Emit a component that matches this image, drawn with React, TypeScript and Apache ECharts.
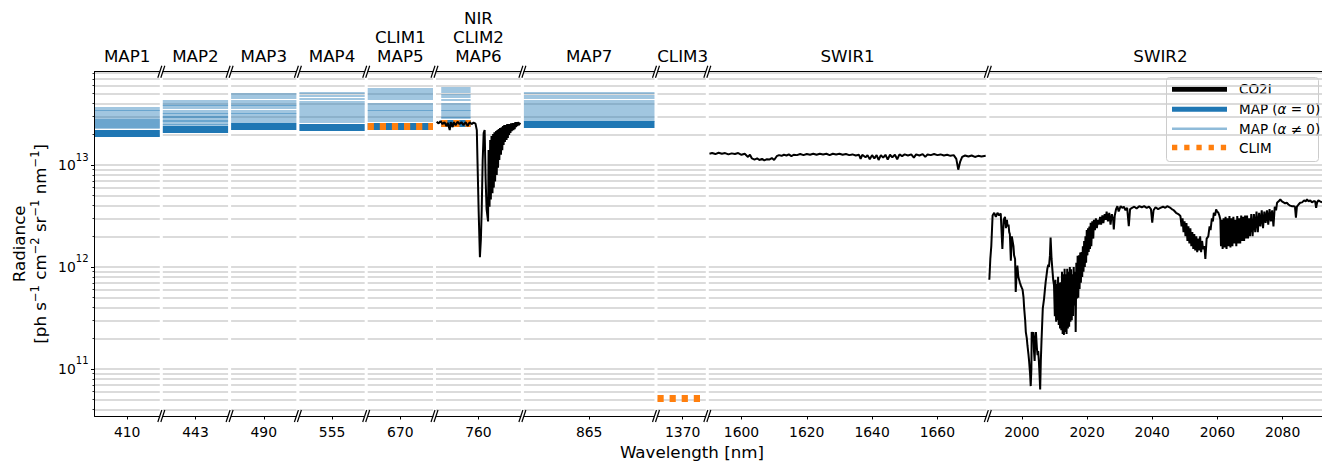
import React, { useEffect, useRef } from "react";
import * as echarts from "echarts";

const FONT = "DejaVu Sans";
const UNIT = 1e12; // radiance values below are in units of 1e12 ph s-1 cm-2 sr-1 nm-1

// ---- panels (broken x axis) ----
const panelNames = ["MAP1", "MAP2", "MAP3", "MAP4", "CLIM1\nMAP5", "NIR\nCLIM2\nMAP6", "MAP7", "CLIM3", "SWIR1", "SWIR2"];
const panelRanges = [[400, 420], [433, 453], [480, 500], [545, 565], [660, 680], [747, 773], [845, 885], [1362.3, 1377.1], [1590, 1675], [1990, 2092.1]];
const panelTicks = [[410], [443], [490], [555], [670], [760], [865], [1370], [1600, 1620, 1640, 1660], [2000, 2020, 2040, 2060, 2080]];
const panelLabelAt = [410, 443, 490, 555, 670, 760, 865, 1370, 1632.5, 2042.5];

// ---- y axis (log) ----
const yMin = 3.46e10;
const yMax = 8.22e13;
const yMajorTicks = [1e11, 1e12, 1e13];
const yMinorTicks = [4e10, 5e10, 6e10, 7e10, 8e10, 9e10, 2e11, 3e11, 4e11, 5e11, 6e11, 7e11, 8e11, 9e11, 2e12, 3e12, 4e12, 5e12, 6e12, 7e12, 8e12, 9e12, 2e13, 3e13, 4e13, 5e13, 6e13, 7e13, 8e13];

// ---- MAP bands ----
const mapPanel = [0, 1, 2, 3, 4, 5, 6];
const mapRanges = [[400, 420], [433, 453], [480, 500], [545, 565], [660, 680], [748.6, 757.6], [845, 885]];
const mapAlphaZero = [20.6, 22.4, 23.9, 23.5, 24.1, 25.9, 25.0];
const mapAlphaNonZero = [
  [36.4, 35.2, 33.7, 32.2, 30.8, 29.4, 28.1, 27.6, 27.2, 26.3, 25.8, 25.4, 24.6, 24.2, 23.8, 23.0],
  [42.4, 41.2, 39.4, 37.7, 36.1, 34.4, 32.9, 31.5, 30.1, 29.4, 28.8, 27.5, 26.9, 26.3, 25.2, 24.6],
  [50.0, 48.2, 45.6, 43.1, 41.2, 39.4, 37.7, 36.1, 34.4, 32.9, 31.5, 30.1, 28.8, 27.5, 26.5],
  [50.7, 47.5, 44.5, 42.0, 40.0, 38.2, 36.5, 34.8, 33.2, 31.8, 30.4, 29.1, 27.8, 26.5],
  [56.4, 53.9, 51.4, 49.2, 47.0, 44.9, 40.3, 38.5, 36.8, 35.2, 33.7, 32.2, 30.8, 29.4, 28.1, 27.1],
  [57.3, 54.5, 51.8, 49.0, 46.5, 44.0, 40.3, 38.5, 36.8, 35.2, 33.7, 32.2, 30.8, 29.4, 28.8],
  [50.7, 48.2, 45.6, 43.1, 40.9, 38.8, 37.0, 35.4, 33.8, 32.3, 30.9, 29.6, 28.4, 27.2],
];

// ---- CLIM bands ----
const climPanel = [4, 5, 7];
const climRanges = [[660, 680], [748.6, 757.6], [1362.3, 1377.1]];
const climValues = [24.1, 25.9, 0.052];

// ---- CO2I spectra [wavelength nm, radiance 1e12] ----
const nirSpectrum = [
  [747.2, 26.6], [747.8, 25.6], [748.4, 26.9], [749.0, 25.2], [749.6, 26.3], [750.2, 24.1], [750.6, 25.9], [751.2, 22.0],
  [751.5, 26.3], [752.1, 23.5], [752.4, 26.3], [753.0, 24.6], [753.6, 26.6], [754.2, 25.2], [754.8, 26.3], [755.4, 24.6],
  [756.1, 26.3], [756.7, 24.1], [757.3, 26.3], [757.9, 25.2], [758.5, 26.0], [759.1, 25.4], [759.5, 22.0], [759.7, 11.2],
  [760.05, 3.67], [760.45, 1.25], [760.75, 1.87], [761.0, 3.67], [761.3, 11.2], [761.6, 20.6], [761.9, 22.0], [762.2, 7.3],
  [762.5, 3.67], [762.95, 2.8], [763.1, 14.0], [763.4, 3.9], [763.6, 17.6], [763.8, 4.6], [764.0, 19.2], [764.3, 5.3],
  [764.5, 20.1], [764.7, 6.0], [764.9, 21.0], [765.1, 6.9], [765.4, 21.5], [765.6, 8.0], [765.8, 22.0], [766.0, 9.4],
  [766.2, 22.5], [766.4, 11.2], [766.6, 23.0], [766.9, 12.6], [767.1, 23.5], [767.3, 14.0], [767.5, 24.1], [767.7, 15.7],
  [767.9, 24.6], [768.1, 16.8], [768.3, 24.6], [768.6, 17.6], [768.8, 25.2], [769.0, 18.4], [769.2, 25.2], [769.4, 19.7],
  [769.6, 25.2], [769.8, 20.6], [770.0, 25.7], [770.2, 21.5], [770.5, 25.7], [770.7, 22.0], [770.9, 25.7], [771.1, 22.5],
  [771.3, 26.3], [771.5, 23.5], [771.7, 26.3], [771.9, 24.1], [772.1, 26.3], [772.4, 24.6], [772.8, 26.0],
];

const swir1Spectrum = [
  [1590.2, 12.9], [1591.0, 13.1], [1592.0, 12.8], [1593.0, 13.2], [1594.0, 12.9], [1595.0, 13.1], [1596.0, 12.7], [1597.0, 13.0],
  [1598.0, 12.8], [1599.0, 13.1], [1600.0, 12.6], [1601.0, 12.9], [1602.0, 12.0], [1602.6, 12.6], [1603.2, 11.6], [1604.0, 11.3],
  [1604.8, 11.6], [1605.5, 11.2], [1606.3, 11.5], [1607.0, 11.1], [1607.8, 11.4], [1608.5, 11.3], [1609.3, 11.7], [1610.0, 11.2],
  [1610.8, 12.2], [1611.5, 12.5], [1612.3, 12.3], [1613.0, 12.6], [1613.8, 12.4], [1614.5, 12.7], [1615.3, 12.2], [1616.0, 12.6],
  [1617.0, 12.5], [1618.0, 12.8], [1619.0, 12.5], [1620.0, 12.8], [1621.0, 12.6], [1622.0, 12.9], [1623.0, 12.6], [1624.0, 12.9],
  [1625.0, 12.7], [1626.0, 12.9], [1627.0, 12.5], [1628.0, 12.9], [1629.0, 12.7], [1630.0, 12.9], [1631.0, 12.6], [1632.0, 12.8],
  [1633.0, 12.5], [1634.0, 12.7], [1635.0, 12.4], [1636.0, 12.6], [1636.5, 11.5], [1637.0, 12.6], [1638.0, 11.9], [1638.6, 12.5],
  [1639.3, 11.4], [1640.0, 12.5], [1640.7, 11.6], [1641.4, 12.5], [1642.0, 11.2], [1642.7, 12.5], [1643.4, 11.8], [1644.1, 12.6],
  [1644.8, 11.3], [1645.5, 12.6], [1646.2, 11.9], [1647.0, 12.6], [1647.7, 11.4], [1648.4, 12.7], [1649.2, 12.2], [1650.0, 12.7],
  [1651.0, 12.4], [1652.0, 12.7], [1652.8, 11.8], [1653.5, 12.7], [1654.5, 12.4], [1655.5, 12.8], [1656.3, 12.0], [1657.0, 12.7],
  [1658.0, 12.5], [1659.0, 12.8], [1660.0, 12.5], [1661.0, 12.7], [1662.0, 12.4], [1663.0, 12.6], [1664.0, 12.3], [1665.0, 12.5],
  [1665.8, 11.5], [1666.4, 9.0], [1667.0, 10.8], [1667.6, 12.0], [1668.5, 12.4], [1669.5, 12.1], [1670.5, 12.4], [1671.5, 12.0],
  [1672.5, 12.3], [1673.5, 12.1], [1674.8, 12.3],
];

const swir2Spectrum = [
  [1990.0, 0.75], [1990.3, 1.2], [1990.6, 1.6], [1991.0, 3.2], [1991.5, 3.4], [1992.0, 3.1], [1992.5, 3.4], [1993.0, 3.2],
  [1993.5, 3.35], [1994.0, 1.5], [1994.4, 2.9], [1994.8, 3.1], [1995.1, 2.4], [1995.4, 2.9], [1995.6, 2.5], [1995.9, 2.6],
  [1996.1, 2.2], [1996.3, 2.1], [1996.6, 1.15], [1996.9, 2.0], [1997.1, 2.0], [1997.4, 1.6], [1997.6, 1.3], [1997.9, 1.2],
  [1998.1, 0.57], [1998.4, 0.9], [1998.6, 1.03], [1998.9, 0.8], [1999.1, 0.76], [1999.4, 0.7], [1999.65, 0.66], [2000.0, 0.62],
  [2000.2, 0.6], [2000.5, 0.5], [2000.7, 0.39], [2001.0, 0.3], [2001.2, 0.23], [2001.5, 0.2], [2001.7, 0.17], [2002.0, 0.14],
  [2002.2, 0.12], [2002.5, 0.09], [2002.7, 0.068], [2002.9, 0.1], [2003.0, 0.23], [2003.3, 0.21], [2003.5, 0.23], [2003.7, 0.15],
  [2003.9, 0.12], [2004.1, 0.2], [2004.3, 0.23], [2004.6, 0.16], [2004.8, 0.137], [2005.0, 0.15], [2005.2, 0.12], [2005.4, 0.09],
  [2005.6, 0.063], [2005.8, 0.12], [2006.0, 0.184], [2006.4, 0.39], [2006.8, 0.49], [2007.1, 0.62], [2007.3, 0.72], [2007.6, 0.85],
  [2007.8, 0.96], [2008.1, 1.05], [2008.3, 1.0], [2008.6, 1.3], [2008.8, 1.94], [2009.1, 1.2], [2009.4, 0.9], [2009.6, 0.75],
  [2009.85, 0.66], [2010.1, 0.33], [2010.3, 0.75], [2010.5, 0.29], [2010.7, 0.68], [2010.9, 0.3], [2011.1, 0.8], [2011.3, 0.27],
  [2011.5, 0.7], [2011.7, 0.25], [2011.9, 0.71], [2012.1, 0.24], [2012.3, 0.9], [2012.5, 0.22], [2012.7, 0.85], [2012.9, 0.216],
  [2013.1, 0.96], [2013.3, 0.23], [2013.5, 0.85], [2013.7, 0.22], [2013.9, 0.96], [2014.1, 0.25], [2014.3, 0.9], [2014.5, 0.26],
  [2014.7, 1.0], [2014.9, 0.29], [2015.1, 0.95], [2015.3, 0.3], [2015.5, 0.85], [2015.7, 0.33], [2015.9, 1.0], [2016.1, 0.42],
  [2016.3, 0.9], [2016.5, 0.23], [2016.7, 1.1], [2016.9, 0.49], [2017.1, 1.29], [2017.3, 0.5], [2017.5, 1.3], [2017.7, 0.61],
  [2017.9, 1.39], [2018.1, 0.7], [2018.3, 1.4], [2018.5, 0.8], [2018.7, 1.6], [2018.9, 0.9], [2019.1, 1.8], [2019.3, 1.0],
  [2019.5, 2.0], [2019.7, 1.1], [2019.9, 2.3], [2020.1, 1.3], [2020.3, 2.4], [2020.5, 1.4], [2020.7, 2.5], [2020.9, 1.5],
  [2021.1, 2.72], [2021.3, 1.6], [2021.6, 2.8], [2021.9, 1.9], [2022.1, 2.9], [2022.4, 2.3], [2022.7, 3.0], [2023.0, 2.4],
  [2023.3, 2.9], [2023.6, 2.6], [2024.0, 3.1], [2024.3, 2.6], [2024.7, 3.2], [2025.0, 2.7], [2025.4, 3.3], [2025.7, 2.9],
  [2026.0, 3.5], [2026.4, 2.8], [2026.8, 3.4], [2027.2, 2.6], [2027.6, 3.3], [2028.0, 2.9], [2028.2, 2.33], [2028.5, 3.2],
  [2028.9, 3.7], [2029.3, 3.95], [2029.7, 3.5], [2030.3, 3.95], [2030.8, 3.8], [2031.3, 3.9], [2031.8, 3.6], [2032.3, 3.8],
  [2032.8, 2.52], [2033.2, 3.7], [2033.8, 3.8], [2034.5, 3.9], [2035.2, 3.75], [2036.0, 3.95], [2036.8, 3.85], [2037.5, 3.95],
  [2038.3, 3.8], [2039.0, 3.9], [2039.6, 3.7], [2040.0, 2.72], [2040.4, 3.6], [2041.0, 3.85], [2041.8, 3.7], [2042.5, 3.8],
  [2043.3, 3.9], [2044.0, 3.8], [2044.6, 3.95], [2045.3, 3.85], [2046.0, 3.7], [2046.6, 3.6], [2047.3, 3.4], [2048.0, 3.3],
  [2048.65, 3.16], [2049.0, 2.5], [2049.3, 3.0], [2049.6, 2.2], [2049.9, 2.8], [2050.2, 2.0], [2050.5, 2.7], [2050.8, 1.8],
  [2051.1, 2.5], [2051.4, 1.7], [2051.7, 2.4], [2052.0, 1.6], [2052.3, 2.2], [2052.6, 1.5], [2052.9, 2.1], [2053.2, 1.45],
  [2053.5, 2.0], [2053.8, 1.4], [2054.1, 1.9], [2054.4, 1.45], [2054.7, 2.0], [2055.0, 1.4], [2055.3, 1.8], [2055.6, 1.5],
  [2056.0, 1.6], [2056.3, 1.2], [2056.7, 1.9], [2057.2, 2.0], [2057.6, 2.5], [2057.9, 2.3], [2058.3, 3.0], [2058.6, 2.8],
  [2058.9, 3.4], [2059.3, 3.2], [2059.6, 3.67], [2059.9, 3.5], [2060.3, 3.4], [2060.6, 3.2], [2060.9, 2.9], [2061.1, 1.6],
  [2061.3, 2.9], [2061.6, 1.5], [2061.9, 3.0], [2062.2, 1.55], [2062.5, 3.1], [2062.8, 1.5], [2063.1, 3.0], [2063.4, 1.6],
  [2063.7, 3.16], [2064.0, 1.55], [2064.3, 3.0], [2064.6, 1.6], [2064.9, 3.1], [2065.2, 1.7], [2065.5, 2.9], [2065.8, 1.6],
  [2066.1, 3.16], [2066.4, 1.7], [2066.7, 3.0], [2067.0, 1.7], [2067.3, 3.2], [2067.6, 1.8], [2067.9, 3.1], [2068.2, 1.8],
  [2068.5, 3.2], [2068.8, 1.9], [2069.1, 3.2], [2069.4, 1.9], [2069.7, 3.0], [2070.0, 2.0], [2070.4, 3.3], [2070.8, 2.0],
  [2071.2, 3.3], [2071.6, 2.2], [2072.0, 3.5], [2072.4, 2.2], [2072.8, 3.4], [2073.2, 2.5], [2073.6, 3.6], [2074.0, 2.4],
  [2074.4, 3.5], [2074.8, 2.7], [2075.2, 3.6], [2075.6, 2.6], [2076.0, 3.7], [2076.4, 2.8], [2076.8, 3.6], [2077.2, 2.5],
  [2077.6, 3.9], [2078.0, 3.6], [2078.3, 4.26], [2078.8, 4.4], [2079.3, 4.59], [2079.8, 4.4], [2080.3, 4.3], [2080.8, 4.2],
  [2081.3, 4.26], [2081.8, 4.1], [2082.3, 4.0], [2082.8, 3.95], [2083.35, 3.95], [2083.8, 3.9], [2084.1, 3.05], [2084.4, 3.9],
  [2084.9, 4.1], [2085.4, 4.26], [2086.0, 4.3], [2086.6, 4.5], [2087.1, 4.4], [2087.5, 4.6], [2088.0, 4.4], [2088.5, 4.5],
  [2089.0, 4.3], [2089.5, 4.4], [2090.0, 4.4], [2090.3, 3.8], [2090.6, 4.3], [2091.0, 4.5], [2091.5, 4.4], [2092.1, 4.3],
];

const co2iPanel = [5, 8, 9];
const co2iSpectra = [nirSpectrum, swir1Spectrum, swir2Spectrum];

// ---- colours / layout ----
const C_BLACK = "#000000";
const C_MAP = "#1f77b4";
const C_MAP_LIGHT = "#8fbbd9";
const C_CLIM = "#ff7f0e";
const C_GRID = "#cfcfcf";

const PX_PER_NM = 3.265;
const GAP = 3;
const LEFT0 = 94.5;
const TOP = 71.7;
const HEIGHT = 344.3;

const FS_TICK = 13.9;
const FS_LABEL = 16.7;
const FS_LEGEND = 13.5;

function buildOption() {
  const grids: any[] = [];
  let x = LEFT0;
  panelRanges.forEach((r) => {
    const w = (r[1] - r[0]) * PX_PER_NM;
    grids.push({ left: x, top: TOP, width: w, height: HEIGHT, containLabel: false });
    x += w + GAP;
  });

  const xAxes: any[] = [];
  panelRanges.forEach((r, i) => {
    xAxes.push({
      type: "value", gridIndex: i, min: r[0], max: r[1], position: "bottom", z: 10,
      axisLine: { show: true, onZero: false, lineStyle: { color: C_BLACK, width: 1 } },
      axisTick: { show: true, customValues: panelTicks[i], length: 3.5, lineStyle: { color: C_BLACK, width: 1 } },
      axisLabel: { show: true, customValues: panelTicks[i], formatter: (v: number) => String(v), fontSize: FS_TICK, fontFamily: FONT, color: C_BLACK, margin: 8.5 },
      splitLine: { show: false },
    });
    xAxes.push({
      type: "value", gridIndex: i, min: r[0], max: r[1], position: "top", z: 10,
      axisLine: { show: true, onZero: false, lineStyle: { color: C_BLACK, width: 1 } },
      axisTick: { show: false },
      axisLabel: { show: true, customValues: [panelLabelAt[i]], formatter: () => panelNames[i], fontSize: FS_LABEL, lineHeight: 19, fontFamily: FONT, color: C_BLACK, margin: 6 },
      splitLine: { show: false },
    });
  });

  const yAxes: any[] = panelRanges.map((_, i) => ({
    type: "log", gridIndex: i, min: yMin, max: yMax, show: i === 0, position: "left", z: 10,
    axisLine: { show: true, onZero: false, lineStyle: { color: C_BLACK, width: 1 } },
    axisTick: { show: true, customValues: yMajorTicks, length: 3.5, lineStyle: { color: C_BLACK, width: 1 } },
    axisLabel: {
      show: true, customValues: yMajorTicks, margin: 6,
      formatter: (v: number) => "{b|10}{s|" + Math.round(Math.log10(v)) + "}",
      rich: {
        b: { fontSize: FS_TICK, fontFamily: FONT, color: C_BLACK, padding: [7, 0, 7, 0] },
        s: { fontSize: 10, fontFamily: FONT, color: C_BLACK, verticalAlign: "top", padding: [1, 0, 0, 0] },
      },
    },
    splitLine: { show: false },
    minorTick: { show: false },
    minorSplitLine: { show: false },
  }));
  yAxes.push({
    type: "log", gridIndex: 0, min: yMin, max: yMax, position: "left", z: 10,
    axisLine: { show: false },
    axisTick: { show: true, customValues: yMinorTicks, length: 2, lineStyle: { color: C_BLACK, width: 0.8 } },
    axisLabel: { show: false },
    splitLine: { show: false },
  });

  const series: any[] = [];
  const gridLevels = [...yMinorTicks, ...yMajorTicks];
  panelRanges.forEach((r, i) => {
    series.push({
      type: "lines", coordinateSystem: "cartesian2d", xAxisIndex: 2 * i, yAxisIndex: i, silent: true, z: 1,
      lineStyle: { color: C_GRID, width: 1.5, opacity: 1 },
      data: gridLevels.map((v) => ({ coords: [[r[0], v], [r[1], v]] })),
    });
  });

  mapPanel.forEach((p, k) => {
    const r = mapRanges[k];
    series.push({
      type: "lines", coordinateSystem: "cartesian2d", xAxisIndex: 2 * p, yAxisIndex: p, silent: true, z: 2,
      lineStyle: { color: C_MAP, width: 1.8, opacity: 0.42, cap: "butt" },
      data: mapAlphaNonZero[k].map((v) => ({ coords: [[r[0], v * UNIT], [r[1], v * UNIT]] })),
    });
    series.push({
      type: "lines", coordinateSystem: "cartesian2d", xAxisIndex: 2 * p, yAxisIndex: p, silent: true, z: 3,
      lineStyle: { color: C_MAP, width: 7, opacity: 1, cap: "butt" },
      data: [{ coords: [[r[0], mapAlphaZero[k] * UNIT], [r[1], mapAlphaZero[k] * UNIT]] }],
    });
  });

  climPanel.forEach((p, k) => {
    const r = climRanges[k];
    series.push({
      type: "lines", coordinateSystem: "cartesian2d", xAxisIndex: 2 * p, yAxisIndex: p, silent: true, z: 4,
      lineStyle: { color: C_CLIM, width: 7, opacity: 1, type: [6.2, 5.9], cap: "butt" },
      data: [{ coords: [[r[0], climValues[k] * UNIT], [r[1], climValues[k] * UNIT]] }],
    });
  });

  co2iPanel.forEach((p, k) => {
    series.push({
      type: "line", xAxisIndex: 2 * p, yAxisIndex: p, silent: true, z: 5,
      showSymbol: false, symbol: "none",
      lineStyle: { color: C_BLACK, width: 2 },
      data: co2iSpectra[k].map((d) => [d[0], d[1] * UNIT]),
    });
  });

  // break marks
  const graphics: any[] = [];
  grids.forEach((g, i) => {
    const edges: number[] = [];
    if (i > 0) edges.push(g.left);
    if (i < grids.length - 1) edges.push(g.left + g.width);
    edges.forEach((ex) => {
      [TOP, TOP + HEIGHT].forEach((ey) => {
        graphics.push({
          type: "line", z: 50, silent: true,
          shape: { x1: ex - 2, y1: ey + 6, x2: ex + 2, y2: ey - 6 },
          style: { stroke: C_BLACK, lineWidth: 1.2 },
        });
      });
    });
  });

  // axis names
  graphics.push({
    type: "text", x: 29, y: TOP + HEIGHT / 2, rotation: Math.PI / 2, z: 50, silent: true,
    style: {
      text: "Radiance\n[ph s{s|\u22121} cm{s|\u22122} sr{s|\u22121} nm{s|\u22121}]",
      fontSize: FS_LABEL, fontFamily: FONT, fill: C_BLACK, align: "center", verticalAlign: "middle", lineHeight: 21,
      rich: { s: { fontSize: 11.5, fontFamily: FONT, fill: C_BLACK, verticalAlign: "top", lineHeight: 13 } },
    },
  });
  graphics.push({
    type: "text", x: 692, y: 451.5, z: 50, silent: true,
    style: { text: "Wavelength [nm]", fontSize: FS_LABEL, fontFamily: FONT, fill: C_BLACK, align: "center", verticalAlign: "middle" },
  });

  // legend
  const lx = 1166.5, ly = 77.5;
  const rowY = [11.7, 31.7, 51.3, 70];
  const legendItems = [
    { text: "CO2I", stroke: C_BLACK, width: 5, dash: null as any, rich: false },
    { text: "MAP ({i|\u03B1} = 0)", stroke: C_MAP, width: 5, dash: null as any, rich: true },
    { text: "MAP ({i|\u03B1} \u2260 0)", stroke: C_MAP_LIGHT, width: 2.5, dash: null as any, rich: true },
    { text: "CLIM", stroke: C_CLIM, width: 5.3, dash: [5.3, 6.9], rich: false },
  ];
  const legendChildren: any[] = [
    { type: "rect", shape: { x: 0, y: 0, width: 152, height: 84, r: 3 }, style: { fill: "rgba(255,255,255,0.85)", stroke: "#cccccc", lineWidth: 1 } },
  ];
  legendItems.forEach((it, k) => {
    legendChildren.push({
      type: "line", shape: { x1: 5.5, y1: rowY[k], x2: 60.5, y2: rowY[k] },
      style: { stroke: it.stroke, lineWidth: it.width, lineDash: it.dash, lineCap: "butt" },
    });
    const style: any = { text: it.text, fontSize: FS_LEGEND, fontFamily: FONT, fill: C_BLACK, verticalAlign: "middle", align: "left" };
    if (it.rich) style.rich = { i: { fontStyle: "italic", fontSize: FS_LEGEND, fontFamily: FONT, fill: C_BLACK } };
    legendChildren.push({ type: "text", x: 72.5, y: rowY[k], style });
  });
  graphics.push({ type: "group", x: lx, y: ly, z: 100, silent: true, children: legendChildren });

  return {
    animation: false,
    backgroundColor: "#ffffff",
    textStyle: { fontFamily: FONT },
    grid: grids,
    xAxis: xAxes,
    yAxis: yAxes,
    series,
    graphic: graphics,
  };
}

export default function App() {
  const ref = useRef<HTMLDivElement>(null);
  useEffect(() => {
    if (!ref.current) return;
    const chart = echarts.init(ref.current, undefined, { renderer: "svg" });
    chart.setOption(buildOption() as any);
    return () => chart.dispose();
  }, []);
  return (
    <div style={{ position: "absolute", left: 0, top: 0, width: 1322, height: 462, overflow: "hidden", background: "#fff" }}>
      <div ref={ref} style={{ width: 1322, height: 462 }} />
    </div>
  );
}
